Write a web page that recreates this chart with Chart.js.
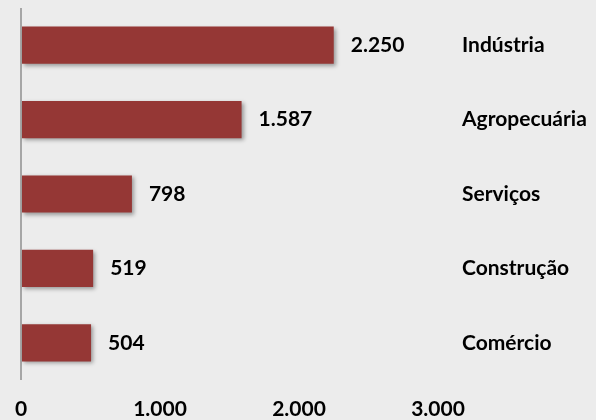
<!DOCTYPE html>
<html>
<head>
<meta charset="utf-8">
<script src="https://cdn.jsdelivr.net/npm/chart.js@4"></script>
<style>
  html, body { margin: 0; padding: 0; background: #ececec; }
  canvas { display: block; }
</style>
</head>
<body>
<canvas id="c" width="596" height="420"></canvas>
<script>
const categories = ['Indústria', 'Agropecuária', 'Serviços', 'Construção', 'Comércio'];
const values = [2250, 1587, 798, 519, 504];
const xTicks = [0, 1000, 2000, 3000];

const FONT = { family: 'Lato, "Open Sans", sans-serif', size: 21, weight: 'bold' };

function fmt(v) {
  return String(Math.round(v)).replace(/\B(?=(\d{3})+(?!\d))/g, '.');
}

const barDecor = {
  id: 'barDecor',
  beforeDatasetsDraw(chart) {
    const ctx = chart.ctx;
    ctx.save();
    ctx.shadowColor = 'rgba(0,0,0,0.35)';
    ctx.shadowBlur = 4;
    ctx.shadowOffsetX = 2;
    ctx.shadowOffsetY = 2;
  },
  afterDatasetsDraw(chart) {
    const ctx = chart.ctx;
    ctx.restore();
    ctx.save();
    ctx.font = `bold ${FONT.size}px ${FONT.family}`;
    ctx.fillStyle = '#000';
    ctx.textAlign = 'left';
    ctx.textBaseline = 'middle';
    const meta = chart.getDatasetMeta(0);
    meta.data.forEach((bar, i) => {
      ctx.fillText(fmt(values[i]), bar.x + 17, bar.y);
    });
    ctx.restore();
  }
};

new Chart(document.getElementById('c'), {
  type: 'bar',
  data: {
    labels: categories,
    datasets: [{
      data: values,
      backgroundColor: '#953735',
      borderWidth: 0,
      barPercentage: 0.5,
      categoryPercentage: 1.0
    }]
  },
  options: {
    indexAxis: 'y',
    responsive: false,
    animation: false,
    devicePixelRatio: 1,
    layout: { padding: { top: 8, left: 21, right: 0, bottom: 0 } },
    plugins: { legend: { display: false }, tooltip: { enabled: false } },
    scales: {
      x: {
        type: 'linear',
        min: 0,
        max: 3000,
        afterBuildTicks(scale) { scale.ticks = xTicks.map(v => ({ value: v })); },
        afterFit(scale) { scale.height = 40; scale.paddingLeft = 0; scale.paddingRight = 0; },
        border: { display: false },
        grid: {
          drawTicks: false,
          lineWidth: 2,
          color: (ctx) => (ctx.tick && ctx.tick.value === 0) ? '#a6a6a6' : 'rgba(0,0,0,0)'
        },
        ticks: {
          color: '#000',
          font: FONT,
          padding: 17,
          maxRotation: 0,
          callback: (v) => fmt(v)
        }
      },
      y: {
        position: 'right',
        afterFit(scale) { scale.width = 158; scale.paddingTop = 0; scale.paddingBottom = 0; },
        border: { display: false },
        grid: { display: false, drawTicks: false },
        ticks: {
          color: '#000',
          font: FONT,
          padding: 24,
          crossAlign: 'near'
        }
      }
    }
  },
  plugins: [barDecor]
});
</script>
</body>
</html>
